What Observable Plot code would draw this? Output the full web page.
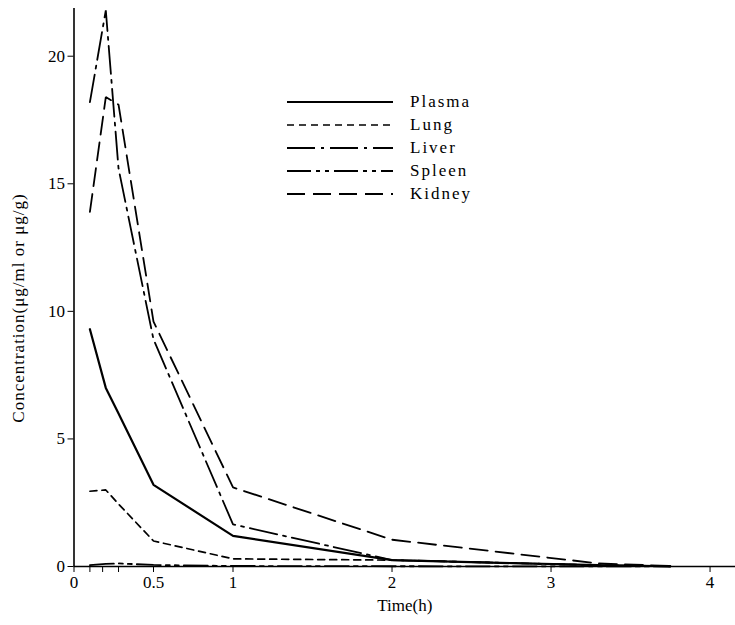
<!DOCTYPE html>
<html>
<head>
<meta charset="utf-8">
<script src="https://cdn.jsdelivr.net/npm/d3@7"></script>
<script src="https://cdn.jsdelivr.net/npm/@observablehq/plot@0.6"></script>
<style>
  html, body { margin: 0; padding: 0; background: #fff; }
  #wrap { position: relative; width: 735px; height: 625px; }
  #legend { position: absolute; left: 287px; top: 90px; font-family: "Liberation Serif", "DejaVu Serif", serif; font-size: 17px; letter-spacing: 2px; }
  #legend .row { display: flex; align-items: center; height: 23px; }
  #legend svg { margin-right: 17px; }
  #ylabel { position: absolute; left: 18px; top: 308px; transform: translate(-50%, -50%) rotate(-90deg); white-space: nowrap;
            font-family: "Liberation Serif", "DejaVu Serif", serif; font-size: 17px; letter-spacing: 1px; line-height: 1; }
</style>
</head>
<body>
<div id="wrap">
  <div id="chart"></div>
  <div id="legend"></div>
  <div id="ylabel"></div>
</div>
<script>
const times = [0.1, 0.2, 0.28, 0.5, 1, 2, 3.3, 3.75];
const seriesNames = ["Plasma", "Lung", "Liver", "Spleen", "Kidney"];
const plasma = [9.3, 7.0, 6.0, 3.2, 1.2, 0.25, 0.05, 0.01];
const lung   = [2.95, 3.0, 2.45, 1.0, 0.3, 0.25, 0.05, 0.01];
const liver  = [18.2, 21.8, 15.6, 8.9, 1.65, 0.25, 0.05, 0.01];
const spleen = [0.05, 0.1, 0.12, 0.06, 0.02, 0.01, 0.005, 0.0];
const kidney = [13.9, 18.4, 18.1, 9.6, 3.1, 1.05, 0.12, 0.02];
const xTickValues = [0, 0.5, 1, 2, 3, 4];
const xMinorTicks = [0.1, 0.18, 0.28];
const yTickValues = [0, 5, 10, 15, 20];
const xLabel = "Time(h)";
const yLabel = "Concentration(\u03bcg/ml or \u03bcg/g)";
const dashes = {Plasma: null, Lung: "7,5", Liver: "28,6,3,6", Spleen: "24,5,4,5,4,5", Kidney: "18,8"};
const widths = {Plasma: 2.2, Lung: 1.7, Liver: 1.8, Spleen: 1.8, Kidney: 1.8};

const valuesBySeries = {Plasma: plasma, Lung: lung, Liver: liver, Spleen: spleen, Kidney: kidney};
const rows = seriesNames.flatMap(name => times.map((t, i) => ({series: name, t, v: valuesBySeries[name][i]})));

const font = '"Liberation Serif", "DejaVu Serif", serif';

const chart = Plot.plot({
  width: 735,
  height: 625,
  marginLeft: 73.5,
  marginRight: 0,
  marginTop: 8,
  marginBottom: 59,
  style: {fontFamily: font, fontSize: "17px", background: "#fff", color: "#000"},
  x: {domain: [0, 4.16], range: [73.5, 735]},
  y: {domain: [0, 21.87]},
  marks: [
    ...seriesNames.map(name => Plot.line(rows.filter(d => d.series === name), {
      x: "t", y: "v", stroke: "#000", strokeWidth: widths[name],
      strokeDasharray: dashes[name], strokeLinejoin: "miter"
    })),
    Plot.axisX({ticks: xTickValues, tickSize: 6, tickPadding: 3, tickFormat: d => String(d), label: null, fontSize: 17}),
    Plot.axisX({ticks: xMinorTicks, tickSize: 6, tickFormat: () => "", label: null}),
    Plot.axisY({ticks: yTickValues, tickSize: 6, tickPadding: 3, label: null, fontSize: 17}),
    Plot.ruleY([0], {stroke: "#000", strokeWidth: 1.6}),
    Plot.ruleX([0], {stroke: "#000", strokeWidth: 1.6}),
    Plot.text([xLabel], {frameAnchor: "bottom", dy: 44, fontSize: 17, fill: "#000", letterSpacing: 0.5})
  ]
});
document.getElementById("chart").appendChild(chart);
document.getElementById("ylabel").textContent = yLabel;

const legend = document.getElementById("legend");
for (const name of seriesNames) {
  const row = document.createElement("div");
  row.className = "row";
  const ns = "http://www.w3.org/2000/svg";
  const svg = document.createElementNS(ns, "svg");
  svg.setAttribute("width", 106);
  svg.setAttribute("height", 6);
  const ln = document.createElementNS(ns, "line");
  ln.setAttribute("x1", 0); ln.setAttribute("x2", 106);
  ln.setAttribute("y1", 3); ln.setAttribute("y2", 3);
  ln.setAttribute("stroke", "#000");
  ln.setAttribute("stroke-width", widths[name]);
  if (dashes[name]) ln.setAttribute("stroke-dasharray", dashes[name]);
  svg.appendChild(ln);
  row.appendChild(svg);
  const label = document.createElement("span");
  label.textContent = name;
  row.appendChild(label);
  legend.appendChild(row);
}
</script>
</body>
</html>
